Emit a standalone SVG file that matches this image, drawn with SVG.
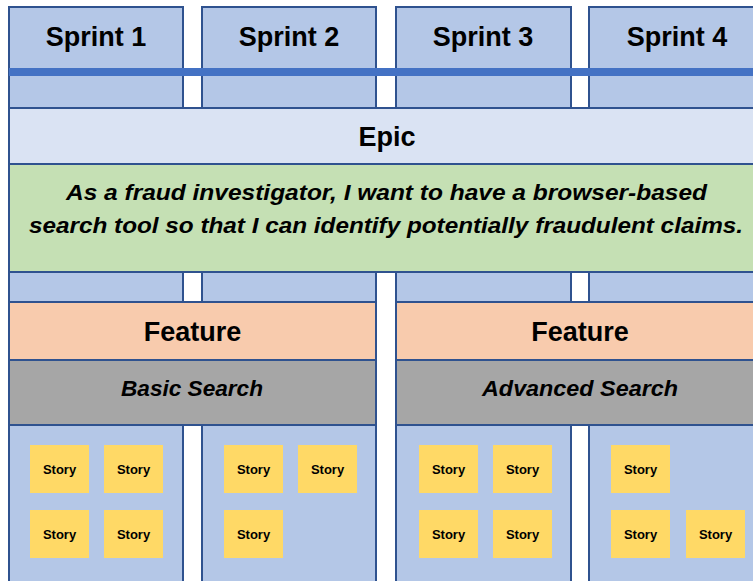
<svg xmlns="http://www.w3.org/2000/svg" width="753" height="581" viewBox="0 0 753 581">
  <style>
    .col { fill: #b4c7e7; stroke: #2f528f; stroke-width: 2; }
    .band { stroke: #2f528f; stroke-width: 2; }
    .epic { fill: #dae3f3; }
    .green { fill: #c5e0b4; }
    .feat { fill: #f8cbad; }
    .gray { fill: #a6a6a6; }
    .story { fill: #ffd966; }
    .t { font-family: "Liberation Sans", Arial, sans-serif; font-weight: bold; fill: #000; text-anchor: middle; }
    .h { font-size: 27px; }
    .it { font-size: 22px; font-style: italic; }
    .s { font-size: 13px; }
  </style>
  <rect width="753" height="581" fill="#ffffff"/>

  <g id="sprint1">
    <rect class="col" x="9" y="7" width="174" height="600"/>
    <text class="t h" x="96" y="46">Sprint 1</text>
  </g>
  <g id="sprint2">
    <rect class="col" x="202" y="7" width="174" height="600"/>
    <text class="t h" x="289" y="46">Sprint 2</text>
  </g>
  <g id="sprint3">
    <rect class="col" x="396" y="7" width="175" height="600"/>
    <text class="t h" x="483" y="46">Sprint 3</text>
  </g>
  <g id="sprint4">
    <rect class="col" x="589" y="7" width="175" height="600"/>
    <text class="t h" x="677" y="46">Sprint 4</text>
  </g>

  <g id="timeline-bar">
    <rect x="9" y="68" width="760" height="8" fill="#4472c4"/>
  </g>

  <g id="epic">
    <rect class="band epic" x="9" y="108" width="760" height="56"/>
    <text class="t h" x="387" y="146">Epic</text>
    <rect class="band green" x="9" y="164" width="760" height="108"/>
    <text class="t it" x="386.5" y="200" textLength="641" lengthAdjust="spacingAndGlyphs">As a fraud investigator, I want to have a browser-based</text>
    <text class="t it" x="386" y="233" textLength="714" lengthAdjust="spacingAndGlyphs">search tool so that I can identify potentially fraudulent claims.</text>
  </g>

  <g id="feature-basic">
    <rect class="band feat" x="9" y="302" width="367" height="58"/>
    <text class="t h" x="192.5" y="341">Feature</text>
    <rect class="band gray" x="9" y="360" width="367" height="65"/>
    <text class="t it" x="192" y="396" textLength="142" lengthAdjust="spacingAndGlyphs">Basic Search</text>
  </g>

  <g id="feature-advanced">
    <rect class="band feat" x="396" y="302" width="373" height="58"/>
    <text class="t h" x="580" y="341">Feature</text>
    <rect class="band gray" x="396" y="360" width="373" height="65"/>
    <text class="t it" x="580" y="396" textLength="196" lengthAdjust="spacingAndGlyphs">Advanced Search</text>
  </g>

  <g id="stories">
    <g id="story-1-1"><rect class="story" x="30" y="445" width="59" height="48"/><text class="t s" x="59.5" y="474">Story</text></g>
    <g id="story-1-2"><rect class="story" x="104" y="445" width="59" height="48"/><text class="t s" x="133.5" y="474">Story</text></g>
    <g id="story-1-3"><rect class="story" x="30" y="510" width="59" height="48"/><text class="t s" x="59.5" y="539">Story</text></g>
    <g id="story-1-4"><rect class="story" x="104" y="510" width="59" height="48"/><text class="t s" x="133.5" y="539">Story</text></g>

    <g id="story-2-1"><rect class="story" x="224" y="445" width="59" height="48"/><text class="t s" x="253.5" y="474">Story</text></g>
    <g id="story-2-2"><rect class="story" x="298" y="445" width="59" height="48"/><text class="t s" x="327.5" y="474">Story</text></g>
    <g id="story-2-3"><rect class="story" x="224" y="510" width="59" height="48"/><text class="t s" x="253.5" y="539">Story</text></g>

    <g id="story-3-1"><rect class="story" x="419" y="445" width="59" height="48"/><text class="t s" x="448.5" y="474">Story</text></g>
    <g id="story-3-2"><rect class="story" x="493" y="445" width="59" height="48"/><text class="t s" x="522.5" y="474">Story</text></g>
    <g id="story-3-3"><rect class="story" x="419" y="510" width="59" height="48"/><text class="t s" x="448.5" y="539">Story</text></g>
    <g id="story-3-4"><rect class="story" x="493" y="510" width="59" height="48"/><text class="t s" x="522.5" y="539">Story</text></g>

    <g id="story-4-1"><rect class="story" x="611" y="445" width="59" height="48"/><text class="t s" x="640.5" y="474">Story</text></g>
    <g id="story-4-2"><rect class="story" x="611" y="510" width="59" height="48"/><text class="t s" x="640.5" y="539">Story</text></g>
    <g id="story-4-3"><rect class="story" x="686" y="510" width="59" height="48"/><text class="t s" x="715.5" y="539">Story</text></g>
  </g>
</svg>
